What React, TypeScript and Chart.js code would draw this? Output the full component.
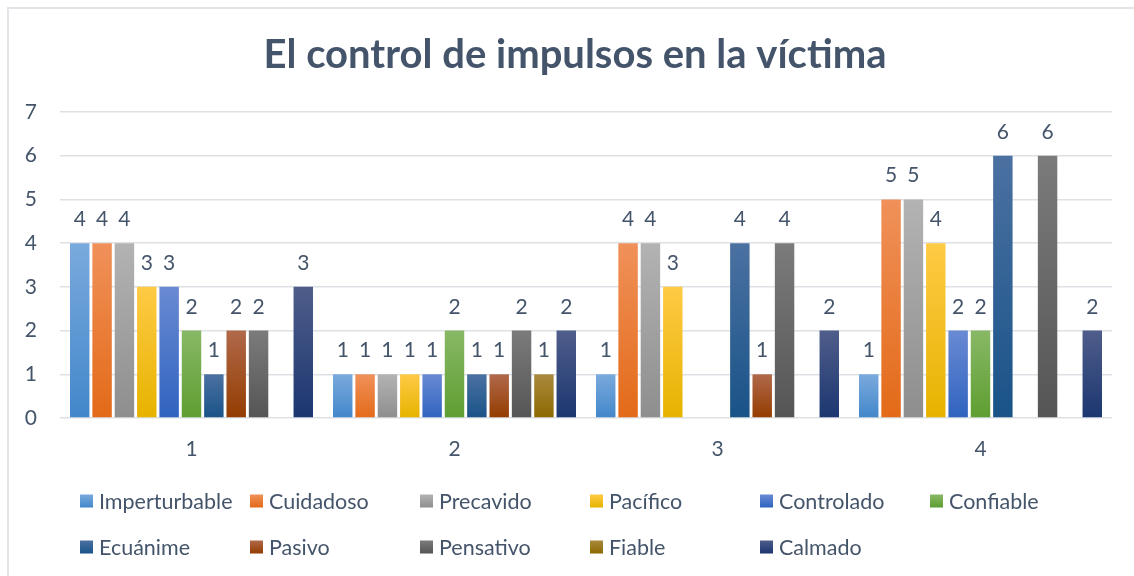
import React, { useEffect, useRef } from "react";
import { Chart, registerables } from "chart.js";

Chart.register(...registerables);

const TITLE = "El control de impulsos en la víctima";
const categories = ["1", "2", "3", "4"];
const seriesNames = [
  "Imperturbable", "Cuidadoso", "Precavido", "Pacífico", "Controlado", "Confiable",
  "Ecuánime", "Pasivo", "Pensativo", "Fiable", "Calmado",
];
const imperturbable = [4, 1, 1, 1];
const cuidadoso = [4, 1, 4, 5];
const precavido = [4, 1, 4, 5];
const pacifico = [3, 1, 3, 4];
const controlado = [3, 1, null, 2];
const confiable = [2, 2, null, 2];
const ecuanime = [1, 1, 4, 6];
const pasivo = [2, 1, 1, null];
const pensativo = [2, 2, 4, 6];
const fiable = [null, 1, null, null];
const calmado = [3, 2, 2, 2];
const seriesValues = [imperturbable, cuidadoso, precavido, pacifico, controlado, confiable, ecuanime, pasivo, pensativo, fiable, calmado];
const yTicks = [0, 1, 2, 3, 4, 5, 6, 7];

const topColors = ["#7aaadd", "#f0915a", "#b3b3b3", "#ffca45", "#6a8ad3", "#88b866", "#4b71a1", "#b0694a", "#7b7b7b", "#a98a3e", "#4f5d8a"];
const botColors = ["#4287ca", "#e36a18", "#8e8e8e", "#e6b300", "#2f63bf", "#5e9e31", "#195388", "#943c00", "#555555", "#8c6900", "#1b3670"];
const midColors = ["#5b9bd5", "#ed7d31", "#a5a5a5", "#ffc000", "#4472c4", "#70ad47", "#255e91", "#9e480e", "#636363", "#997300", "#264478"];

const TEXT = "#44546a";
const FONT = "Lato, 'Open Sans', sans-serif";

const titlePlugin = {
  id: "chartTitle",
  afterDraw(chart: any) {
    const ctx = chart.ctx;
    ctx.save();
    ctx.font = `bold 40px ${FONT}`;
    ctx.fillStyle = TEXT;
    ctx.textAlign = "center";
    ctx.textBaseline = "middle";
    ctx.fillText(TITLE, 575, 55);
    ctx.restore();
  },
};

const dataLabelPlugin = {
  id: "dataLabels",
  afterDatasetsDraw(chart: any) {
    const ctx = chart.ctx;
    ctx.save();
    ctx.font = `21px ${FONT}`;
    ctx.fillStyle = TEXT;
    ctx.textAlign = "center";
    ctx.textBaseline = "alphabetic";
    chart.data.datasets.forEach((ds: any, i: number) => {
      const meta = chart.getDatasetMeta(i);
      meta.data.forEach((el: any, j: number) => {
        const v = ds.data[j];
        if (v == null) return;
        ctx.fillText(String(v), el.x, el.y - 17);
      });
    });
    ctx.restore();
  },
};

const legendPlugin = {
  id: "gridLegend",
  afterDraw(chart: any) {
    const ctx = chart.ctx;
    ctx.save();
    ctx.font = `21.5px ${FONT}`;
    ctx.textBaseline = "middle";
    ctx.textAlign = "left";
    chart.data.datasets.forEach((ds: any, i: number) => {
      const col = i % 6;
      const row = Math.floor(i / 6);
      const x = 80 + col * 170;
      const y = 501 + row * 46;
      const g = ctx.createLinearGradient(0, y - 6.5, 0, y + 6.5);
      g.addColorStop(0, topColors[i]);
      g.addColorStop(1, botColors[i]);
      ctx.fillStyle = g;
      ctx.fillRect(x, y - 6.5, 13, 13);
      ctx.fillStyle = TEXT;
      ctx.fillText(ds.label, x + 19, y + 1);
    });
    ctx.restore();
  },
};

export default function App() {
  const ref = useRef<HTMLCanvasElement | null>(null);
  useEffect(() => {
    if (!ref.current) return;
    const datasets = seriesNames.map((name, i) => ({
      label: name,
      data: seriesValues[i],
      backgroundColor: (c: any) => {
        const chart = c.chart;
        const area = chart.chartArea;
        if (!area || c.type !== "data" || c.raw == null) return midColors[i];
        const y = chart.scales.y;
        const top = y.getPixelForValue(c.raw);
        const bot = y.getPixelForValue(0);
        const g = chart.ctx.createLinearGradient(0, top, 0, bot);
        g.addColorStop(0, topColors[i]);
        g.addColorStop(1, botColors[i]);
        return g;
      },
      borderWidth: 0,
      categoryPercentage: 0.935,
      barPercentage: 0.87,
    }));
    const chart = new Chart(ref.current, {
      type: "bar",
      data: { labels: categories, datasets },
      options: {
        animation: false,
        responsive: false,
        maintainAspectRatio: false,
        layout: { padding: { left: 8, right: 22, top: 112, bottom: 0 } },
        plugins: {
          legend: { display: false },
          tooltip: { enabled: false },
          title: { display: false },
        },
        scales: {
          x: {
            grid: { display: false, drawTicks: false },
            border: { display: false },
            ticks: { color: TEXT, font: { family: FONT, size: 21 }, padding: 19 },
            afterFit: (s: any) => { s.height = 158; },
          },
          y: {
            min: 0,
            max: 7,
            afterBuildTicks: (s: any) => { s.ticks = yTicks.map((v) => ({ value: v })); },
            grid: { color: "#dde1e6", lineWidth: 1.5, drawTicks: false },
            border: { display: false },
            ticks: { color: TEXT, font: { family: FONT, size: 21 }, padding: 23 },
            afterFit: (s: any) => { s.width = 52; },
          },
        },
      },
      plugins: [dataLabelPlugin, legendPlugin, titlePlugin],
    });
    return () => chart.destroy();
  }, []);
  return (
    <div style={{ position: "fixed", left: 0, top: 0, width: 1134, height: 576, background: "#fff" }}>
      <canvas ref={ref} width={1134} height={576} style={{ position: "absolute", left: 0, top: 0 }} />
      <div style={{ position: "absolute", left: 7, top: 7, width: 1130, height: 600, borderLeft: "2px solid #e1e5ea", borderTop: "2px solid #e1e5ea", pointerEvents: "none" }} />
    </div>
  );
}
